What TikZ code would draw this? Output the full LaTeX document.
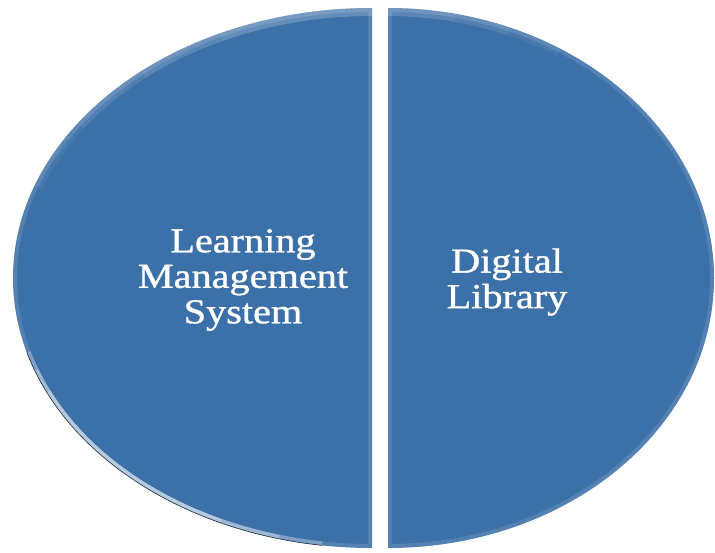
\documentclass[tikz,border=0pt]{standalone}
\usepackage{fontspec}
\setmainfont{Liberation Serif}
\newfontfamily\lblfont[FakeBold=0.9]{Liberation Serif}

\definecolor{halfblue}{RGB}{60,112,168}

\begin{document}
\begin{tikzpicture}[x=1pt, y=1pt,
  half/.style={fill=halfblue},
  rim/.style={draw=white, line width=8pt, opacity=0.12},
  toprim/.style={draw=white, line width=16pt, opacity=0.06},
  lbl/.style={text=white, align=center, inner sep=0pt,
              font=\lblfont\fontsize{35}{35.5}\selectfont, xscale=1.15, transform shape}]

  \useasboundingbox (0,0) rectangle (715,552);

  % Linke Hälfte
  \path[half] (372,544) arc[start angle=90, end angle=270, x radius=359, y radius=270] -- cycle;
  \begin{scope}
    \clip (372,544) arc[start angle=90, end angle=270, x radius=359, y radius=270] -- cycle;
    \draw[rim] (372,544) arc[start angle=90, end angle=270, x radius=359, y radius=270] -- cycle;
    \foreach \e in {115,130,145,160}
      \draw[toprim] (372,544) arc[start angle=90, end angle=\e, x radius=359, y radius=270];
    \foreach \s/\e in {205/262,200/255,196/245}
      \draw[draw=white, line width=8pt, opacity=0.25]
        (372,274) ++(\s:359 and 270) arc[start angle=\s, end angle=\e, x radius=359, y radius=270];
  \end{scope}
  \draw[draw=black!60!halfblue, line width=0.6pt]
    (372,274) ++(196:359 and 270) arc[start angle=196, end angle=262, x radius=359, y radius=270];

  % Rechte Hälfte
  \path[half] (388,544) arc[start angle=90, end angle=-90, x radius=326, y radius=270] -- cycle;
  \begin{scope}
    \clip (388,544) arc[start angle=90, end angle=-90, x radius=326, y radius=270] -- cycle;
    \draw[rim] (388,544) arc[start angle=90, end angle=-90, x radius=326, y radius=270] -- cycle;
    \foreach \e in {78,68,58}
      \draw[toprim] (388,544) arc[start angle=90, end angle=\e, x radius=326, y radius=270];
  \end{scope}

  % Beschriftungen
  \node[lbl] (lms) at (243,272) {Learning\\Management\\System};
  \node[lbl] (dlib) at (507,270) {Digital\\Library};
\end{tikzpicture}
\end{document}
